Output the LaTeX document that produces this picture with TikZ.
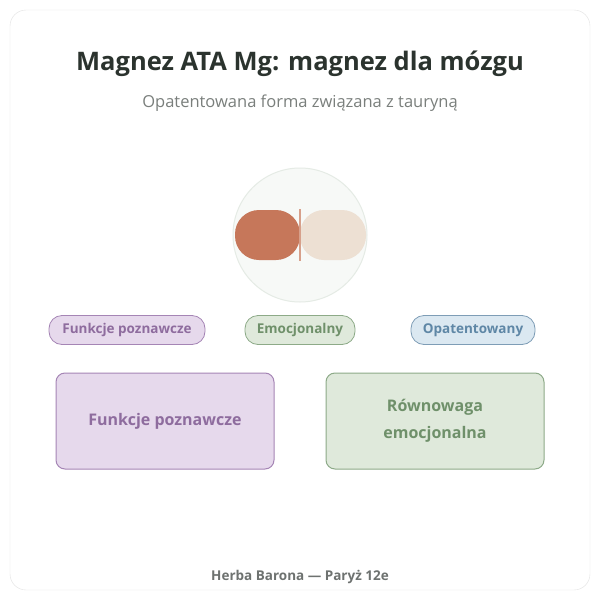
\documentclass[tikz,border=0pt]{standalone}
\usepackage{fontspec}
\setmainfont{Open Sans}
\usetikzlibrary{positioning}
\definecolor{ink}{HTML}{2B332E}
\definecolor{subgrey}{HTML}{7A7F7C}
\definecolor{lilacfill}{HTML}{E6D9EC}
\definecolor{lilacline}{HTML}{A585B5}
\definecolor{lilactext}{HTML}{8E6C9E}
\definecolor{sagefill}{HTML}{DFE9DB}
\definecolor{sageline}{HTML}{8DAA88}
\definecolor{sagetext}{HTML}{6F906A}
\definecolor{skyfill}{HTML}{DBE8F1}
\definecolor{skyline}{HTML}{7E9DB6}
\definecolor{skytext}{HTML}{5F87A6}
\definecolor{rust}{HTML}{C6775A}
\definecolor{cream}{HTML}{EDE0D3}
\tikzset{
  tag/.style={rounded corners=13pt, draw=#1line, fill=#1fill, text=#1text,
    font=\bfseries\fontsize{13.5}{15}\selectfont, minimum height=29pt, inner xsep=2pt, line width=0.8pt},
  card/.style={rounded corners=9pt, draw=#1line, fill=#1fill, text=#1text,
    font=\bfseries\fontsize{16}{27}\selectfont, minimum width=218pt, minimum height=96pt,
    align=center, line width=1pt}
}
\begin{document}
\begin{tikzpicture}[x=1pt, y=-1pt]
  \useasboundingbox (0,0) rectangle (600,600);
  \draw[draw=black!12, fill=white, rounded corners=16pt] (10,10) rectangle (590,590);

  \node[text=ink, font=\bfseries\fontsize{25.5}{28}\selectfont] (title) at (300,64) {Magnez ATA Mg: magnez dla mózgu};
  \node[text=subgrey, font=\fontsize{16.5}{19}\selectfont] (sub) at (300,103) {Opatentowana forma związana z tauryną};

  % capsule
  \node[circle, minimum size=134pt, fill=green!20!black!3, draw=green!20!black!10, line width=1pt] (disc) at (300,235) {};
  \fill[cream, rounded corners=24pt] (300,210) rectangle (366,260);
  \fill[rust, rounded corners=24pt] (235,210) rectangle (300,260);
  \draw[rust!70, line width=1.2pt] (300,209) -- (300,261);

  % tags
  \node[tag=lilac, minimum width=156pt] (tcog) at (127,330) {Funkcje poznawcze};
  \node[tag=sage, minimum width=110pt] (temo) at (300,330) {Emocjonalny};
  \node[tag=sky, minimum width=124pt] (tpat) at (473,330) {Opatentowany};

  % cards
  \node[card=lilac] (cog) at (165,421) {Funkcje poznawcze};
  \node[card=sage] (bal) at (435,421) {Równowaga\\emocjonalna};

  \node[text=subgrey!90!black, font=\bfseries\fontsize{13.5}{16}\selectfont] (foot) at (300,577) {Herba Barona — Paryż 12e};
\end{tikzpicture}
\end{document}
